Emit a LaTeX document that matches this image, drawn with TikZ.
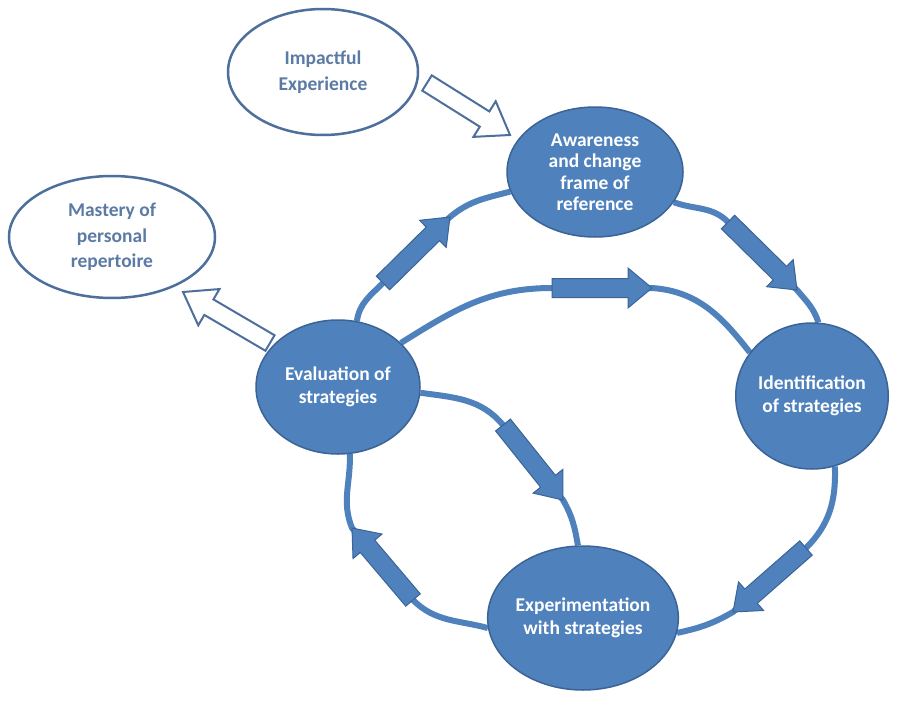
\documentclass[tikz,border=0pt]{standalone}
\usepackage{fontspec}
\setmainfont{Carlito}
\usetikzlibrary{shapes.geometric,calc}
\definecolor{cfill}{HTML}{4F81BD}
\definecolor{cedge}{HTML}{3A6396}
\definecolor{cline}{HTML}{4F81BD}
\definecolor{ctext}{HTML}{5B7BA5}
\definecolor{coutline}{HTML}{4D6F9C}
\pgfdeclarelayer{bg}
\pgfsetlayers{bg,main}

\tikzset{
  stage/.style={ellipse, fill=cfill, draw=cedge, line width=1.5pt, inner sep=0pt,
    text=white, align=center, font=\bfseries\fontsize{19.5}{23.5}\selectfont},
  outcome/.style={ellipse, fill=white, draw=coutline, line width=2.5pt, inner sep=0pt,
    text=ctext, align=center, font=\bfseries\fontsize{19.5}{25.5}\selectfont},
  cycleline/.style={draw=cline, line width=6pt},
  solidarrow/.style={fill=cfill, draw=cedge, line width=1pt, line join=miter},
  hollowarrow/.style={fill=white, draw=coutline, line width=2pt, line join=miter},
}

% block arrow: #1 style, #2 tail coordinate, #3 tip coordinate,
% #4 half shaft width, #5 half head width, #6 head length
\newcommand\blockarrow[6]{%
  \coordinate (#2b) at ($(#3)!#6!(#2)$);
  \path[#1] ($(#2)!#4!90:(#3)$) -- ($(#2b)!#4!90:(#3)$) -- ($(#2b)!#5!90:(#3)$)
    -- (#3) -- ($(#2b)!#5!-90:(#3)$) -- ($(#2b)!#4!-90:(#3)$)
    -- ($(#2)!#4!-90:(#3)$) -- cycle;}

\begin{document}
\begin{tikzpicture}[x=1pt,y=1pt]
\useasboundingbox (0,0) rectangle (899,-701);

% stages of the cycle
\node[stage, minimum width=176pt, minimum height=130pt,
      font=\bfseries\fontsize{19.5}{21.5}\selectfont] (aw) at (595,-172)
      {Awareness\\and change\\frame of\\reference};
\node[stage, minimum width=152pt, minimum height=146pt] (id) at (812,-396)
      {Identification\\of strategies};
\node[stage, minimum width=186pt, minimum height=144pt] (ex) at (583,-618)
      {Experimentation\\with strategies};
\node[stage, minimum width=164pt, minimum height=134pt] (ev) at (338,-387)
      {Evaluation of\\strategies};

% entry and exit points
\node[outcome, minimum width=190pt, minimum height=126pt] (im) at (323,-72)
      {Impactful\\Experience};
\node[outcome, minimum width=206pt, minimum height=122pt] (ma) at (112,-237)
      {Mastery of\\personal\\repertoire};

% arrow positions along the paths
\coordinate (a1t) at (383,-283); \coordinate (a1h) at (450,-217);
\coordinate (a2t) at (728,-222); \coordinate (a2h) at (797,-290);
\coordinate (a3t) at (552,-288); \coordinate (a3h) at (652,-288);
\coordinate (a4t) at (503,-425); \coordinate (a4h) at (563,-500);
\coordinate (a5t) at (806,-548); \coordinate (a5h) at (733,-612);
\coordinate (a6t) at (413,-600); \coordinate (a6h) at (352,-528);
\coordinate (h1t) at (427,-83);  \coordinate (h1h) at (510,-135);
\coordinate (h2t) at (270,-343); \coordinate (h2h) at (183,-292);

% connecting paths behind the stages
\begin{pgfonlayer}{bg}
\draw[cycleline] (ev.74) to[out=82,in=225] (a1t) -- (a1h) to[out=40,in=195] (aw.193);
\draw[cycleline] (aw.-21) to[out=-20,in=135] (a2t) -- (a2h) to[out=-50,in=108] (id.85);
\draw[cycleline] (id.-72) to[out=-88,in=45] (a5t) -- (a5h) to[out=210,in=12] (ex.-9);
\draw[cycleline] (ex.186) to[out=165,in=-45] (a6t) -- (a6h) to[out=112,in=-88] (ev.-80);
\draw[cycleline] (ev.35) to[out=32,in=180] (a3t) -- (a3h) to[out=-4,in=128] (id.145);
\draw[cycleline] (ev.-4) to[out=-8,in=130] (a4t) -- (a4h) to[out=-60,in=100] (ex.94);
\end{pgfonlayer}

% direction arrows
\blockarrow{solidarrow}{a1t}{a1h}{9.5pt}{19pt}{24pt}
\blockarrow{solidarrow}{a2t}{a2h}{9.5pt}{19pt}{24pt}
\blockarrow{solidarrow}{a3t}{a3h}{9.5pt}{20pt}{24pt}
\blockarrow{solidarrow}{a4t}{a4h}{9.5pt}{19pt}{24pt}
\blockarrow{solidarrow}{a5t}{a5h}{9.5pt}{19pt}{24pt}
\blockarrow{solidarrow}{a6t}{a6h}{9.5pt}{19pt}{24pt}
\blockarrow{hollowarrow}{h1t}{h1h}{9pt}{21pt}{30pt}
\blockarrow{hollowarrow}{h2t}{h2h}{9pt}{21pt}{30pt}
\end{tikzpicture}
\end{document}
